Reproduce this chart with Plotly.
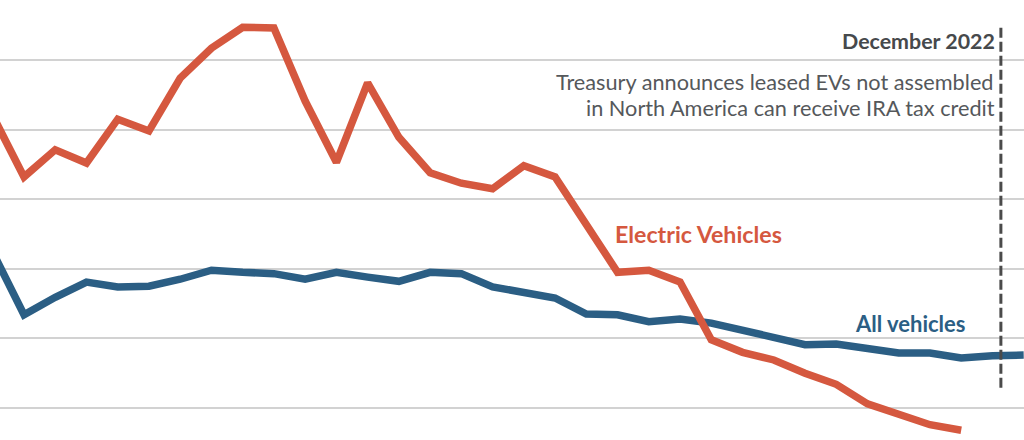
import plotly.graph_objects as go

months = ["Apr 2020", "May 2020", "Jun 2020", "Jul 2020", "Aug 2020", "Sep 2020", "Oct 2020",
          "Nov 2020", "Dec 2020", "Jan 2021", "Feb 2021", "Mar 2021", "Apr 2021", "May 2021",
          "Jun 2021", "Jul 2021", "Aug 2021", "Sep 2021", "Oct 2021", "Nov 2021", "Dec 2021",
          "Jan 2022", "Feb 2022", "Mar 2022", "Apr 2022", "May 2022", "Jun 2022", "Jul 2022",
          "Aug 2022", "Sep 2022", "Oct 2022", "Nov 2022", "Dec 2022", "Jan 2023"]

ev_values = [42.0, 33.2, 37.1, 35.2, 41.5, 39.8, 47.4, 51.7, 54.7, 54.6, 44.1, 35.3, 46.7, 38.9,
             33.8, 32.3, 31.5, 34.8, 33.2, 26.3, 19.5, 19.8, 18.1, 9.8, 8.0, 6.9, 5.0, 3.4,
             0.6, -0.9, -2.4, -3.2, None, None]

all_values = [22.4, 13.4, 15.9, 18.1, 17.4, 17.5, 18.5, 19.8, 19.5, 19.3, 18.5, 19.5, 18.8, 18.2,
              19.5, 19.3, 17.4, 16.7, 15.8, 13.5, 13.4, 12.4, 12.8, 12.2, 11.2, 10.2, 9.1, 9.2,
              8.5, 7.9, 7.9, 7.2, 7.5, 7.6]

grid_values = [0, 10, 20, 30, 40, 50]

RED = "#d5583f"
BLUE = "#2b5e84"
FONT = "Lato"

fig = go.Figure()
fig.add_trace(go.Scatter(x=months, y=all_values, mode="lines",
                         line=dict(color=BLUE, width=7.5), name="All vehicles",
                         connectgaps=False))
fig.add_trace(go.Scatter(x=months, y=ev_values, mode="lines",
                         line=dict(color=RED, width=7.5), name="Electric Vehicles",
                         connectgaps=False))

event_pos = 32.27  # late December 2022 on the category axis
fig.add_shape(type="line", xref="x", yref="y", x0=event_pos, x1=event_pos, y0=2.9, y1=54.8,
              line=dict(color="#4a4a4a", width=3, dash="10px,4px"))

fig.add_annotation(x=event_pos, y=52.75, xref="x", yref="y", xanchor="right", yanchor="middle",
                   xshift=-4, text="<b>December 2022</b>", showarrow=False,
                   font=dict(family=FONT, size=21.4, color="#46494c"))
fig.add_annotation(x=event_pos, y=46.9, xref="x", yref="y", xanchor="right", yanchor="middle",
                   xshift=-6, text="Treasury announces leased EVs not assembled",
                   showarrow=False, font=dict(family=FONT, size=21.7, color="#55585b"))
fig.add_annotation(x=event_pos, y=43.15, xref="x", yref="y", xanchor="right", yanchor="middle",
                   xshift=-4, text="in North America can receive IRA tax credit",
                   showarrow=False, font=dict(family=FONT, size=21.7, color="#55585b"))
fig.add_annotation(x="Feb 2022", y=25.0, xref="x", yref="y", xanchor="center", yanchor="middle",
                   xshift=18, text="<b>Electric Vehicles</b>", showarrow=False,
                   font=dict(family=FONT, size=23.2, color=RED))
fig.add_annotation(x="Sep 2022", y=12.1, xref="x", yref="y", xanchor="center", yanchor="middle",
                   xshift=12, text="<b>All vehicles</b>", showarrow=False,
                   font=dict(family=FONT, size=22, color=BLUE))

fig.update_layout(
    width=1024, height=440, margin=dict(l=0, r=0, t=0, b=0),
    paper_bgcolor="white", plot_bgcolor="white", showlegend=False,
    xaxis=dict(type="category", range=[0.2318, 33.01], showgrid=False, zeroline=False,
               showticklabels=False, showline=False, ticks=""),
    yaxis=dict(range=[-4.598, 58.621], tickvals=grid_values, showticklabels=False,
               gridcolor="#d2d2d2", gridwidth=1.5, zeroline=False, showline=False, ticks=""),
)

fig.write_html("out.html")
